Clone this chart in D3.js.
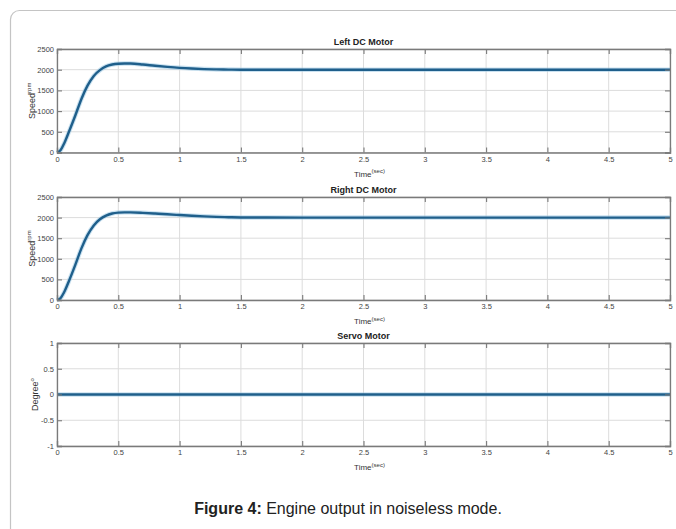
<!DOCTYPE html>
<html><head><meta charset="utf-8">
<script src="https://cdn.jsdelivr.net/npm/d3@7"></script>
<style>
body{margin:0;background:#fff;}
svg{display:block;font-family:"Liberation Sans",Arial,sans-serif;}
</style></head>
<body>
<svg id="c" width="676" height="529"></svg>
<script>
// ---- data ----
const time = [0,0.03,0.06,0.1,0.15,0.2,0.25,0.3,0.35,0.4,0.45,0.5,0.55,0.6,0.7,0.8,0.9,1.0,1.1,1.2,1.3,1.4,1.5,2,2.5,3,3.5,4,4.5,5];
const leftSpeed  = [0,60,230,520,900,1300,1620,1850,1990,2080,2125,2145,2150,2148,2125,2095,2068,2045,2028,2015,2007,2003,2000,2000,2000,2000,2000,2000,2000,2000];
const rightSpeed = [0,50,200,480,860,1260,1580,1810,1960,2050,2100,2122,2128,2127,2115,2098,2080,2062,2045,2030,2018,2010,2004,2000,2000,2000,2000,2000,2000,2000];
const servoDeg   = [0,0,0,0,0,0,0,0,0,0,0,0,0,0,0,0,0,0,0,0,0,0,0,0,0,0,0,0,0,0];
const xTicks = [0,0.5,1,1.5,2,2.5,3,3.5,4,4.5,5];
const speedTicks = [0,500,1000,1500,2000,2500];
const degTicks = [-1,-0.5,0,0.5,1];
const titles = ["Left DC Motor","Right DC Motor","Servo Motor"];

const svg = d3.select("#c");
svg.append("rect").attr("x",10.5).attr("y",10.5).attr("width",720).attr("height",560)
  .attr("rx",9).attr("fill","none").attr("stroke","#c4c4c4").attr("stroke-width",1.2);

const L = 57, R = 670;
const fmt = d => String(d);
const panels = [
  {top:49, bottom:152.5, values:leftSpeed, domain:[0,2500], ticks:speedTicks, ylab:"Speed", ysup:"rpm", title:titles[0]},
  {top:197, bottom:300, values:rightSpeed, domain:[0,2500], ticks:speedTicks, ylab:"Speed", ysup:"rpm", title:titles[1]},
  {top:343, bottom:446, values:servoDeg, domain:[-1,1], ticks:degTicks, ylab:"Degree", ysup:"o", title:titles[2]}
];

panels.forEach(p => {
  const x = d3.scaleLinear().domain([0,5]).range([L,R]);
  const y = d3.scaleLinear().domain(p.domain).range([p.bottom,p.top]);
  const g = svg.append("g");
  g.selectAll(".vg").data(xTicks).join("line")
    .attr("x1",d=>x(d)).attr("x2",d=>x(d)).attr("y1",p.top).attr("y2",p.bottom)
    .attr("stroke","#dcdcdc").attr("stroke-width",1);
  g.selectAll(".hg").data(p.ticks).join("line")
    .attr("x1",L).attr("x2",R).attr("y1",d=>y(d)).attr("y2",d=>y(d))
    .attr("stroke","#dcdcdc").attr("stroke-width",1);
  const line = d3.line().x((d,i)=>x(time[i])).y(d=>y(d)).curve(d3.curveMonotoneX);
  g.append("path").datum(p.values).attr("d",line).attr("fill","none")
    .attr("stroke","#9cc8e4").attr("stroke-width",4.5).attr("opacity",0.55);
  g.append("path").datum(p.values).attr("d",line).attr("fill","none")
    .attr("stroke","#1f5f8b").attr("stroke-width",2.4);
  const ax = d3.axisBottom(x).tickValues(xTicks).tickSize(-5).tickPadding(4).tickFormat(fmt);
  const axT = d3.axisTop(x).tickValues(xTicks).tickSize(-5).tickFormat("");
  const ay = d3.axisLeft(y).tickValues(p.ticks).tickSize(-5).tickPadding(3).tickFormat(fmt);
  const ayR = d3.axisRight(y).tickValues(p.ticks).tickSize(-5).tickFormat("");
  const gx = g.append("g").attr("transform",`translate(0,${p.bottom})`).call(ax);
  const gxt = g.append("g").attr("transform",`translate(0,${p.top})`).call(axT);
  const gy = g.append("g").attr("transform",`translate(${L},0)`).call(ay);
  const gyr = g.append("g").attr("transform",`translate(${R},0)`).call(ayR);
  [gx,gxt,gy,gyr].forEach(a=>{
    a.select(".domain").attr("stroke","#7a7a7a").attr("stroke-width",1.3);
    a.selectAll(".tick line").attr("stroke","#7a7a7a").attr("stroke-width",1.1);
    a.selectAll("text").attr("fill","#444").style("font-size","7.5px").attr("font-family","Liberation Sans, Arial, sans-serif");
  });
  g.append("text").attr("x",(L+R)/2).attr("y",p.top-4).attr("text-anchor","middle")
    .style("font-size","9px").style("font-weight","bold").attr("fill","#222").text(p.title);
  const xl = g.append("text").attr("x",(L+R)/2+6).attr("y",p.bottom+24).attr("text-anchor","middle")
    .style("font-size","8px").attr("fill","#333");
  xl.append("tspan").text("Time");
  xl.append("tspan").attr("dy",-3.5).style("font-size","6px").text("(sec)");
  const yc = (p.top+p.bottom)/2;
  const yl = g.append("text").attr("transform",`translate(${p.ysup==="o"?38:35},${yc}) rotate(-90)`).attr("text-anchor","middle")
    .style("font-size","9px").attr("fill","#333");
  yl.append("tspan").text(p.ylab);
  yl.append("tspan").attr("dy",-4).style("font-size","6px").text(p.ysup);
});

const cap = svg.append("text").attr("x",348).attr("y",514).attr("text-anchor","middle")
  .style("font-size","16px").attr("fill","#222");
cap.append("tspan").style("font-weight","bold").text("Figure 4:");
cap.append("tspan").text(" Engine output in noiseless mode.");
</script>
</body></html>
